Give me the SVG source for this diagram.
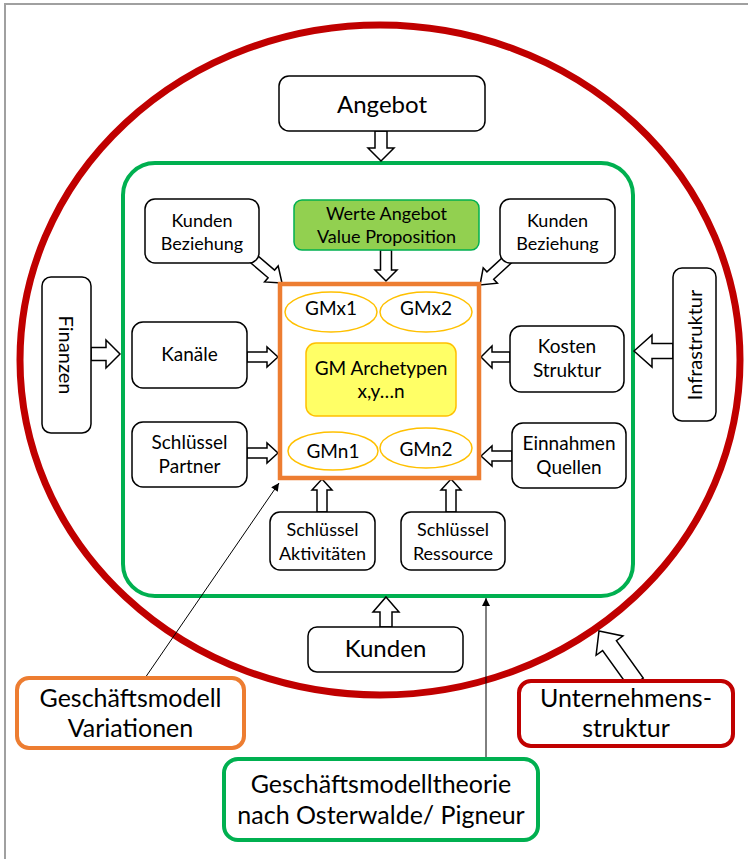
<svg xmlns="http://www.w3.org/2000/svg" width="748" height="859" viewBox="0 0 748 859">
<style>
text{font-family:Lato,"Liberation Sans",sans-serif;fill:#000;text-anchor:middle}
.box{fill:#fff;stroke:#000;stroke-width:1.5}
.blk{fill:#fff;stroke:#000;stroke-width:1.5;stroke-linejoin:miter}
.gm{fill:#fff;stroke:#ffc000;stroke-width:1.5}
.t18{font-size:18px}
.t19{font-size:19px}
.t24{font-size:24px}
.t25{font-size:25px}
.thin{stroke:#000;stroke-width:1;fill:none;marker-end:url(#tri)}
</style>
<defs>
<marker id="tri" viewBox="0 0 10 10" refX="10" refY="5" markerWidth="10" markerHeight="8" markerUnits="userSpaceOnUse" orient="auto">
<path d="M0,0 L10,5 L0,10 Z" fill="#000"/>
</marker>
</defs>
<rect x="0" y="0" width="748" height="859" fill="#fff"/>
<path d="M5,859 V4 H748" fill="none" stroke="#a0a0a0" stroke-width="2"/>
<g id="unternehmen-ellipse">
<ellipse cx="380" cy="360" rx="360" ry="335" fill="none" stroke="#c00000" stroke-width="7"/>
</g>
<g id="theorie-frame">
<rect x="123" y="163" width="510" height="433" rx="32" fill="none" stroke="#00b050" stroke-width="4"/>
</g>
<g id="connectors">
<!-- arrow: tip at origin, pointing up; tail along +y -->
<path class="blk" transform="translate(381,161) rotate(180)" d="M0,0 L13,13 L6,13 L6,30 L-6,30 L-6,13 L-13,13 Z"/>
<path class="blk" transform="translate(386,281) rotate(180)" d="M0,0 L11,11 L5.5,11 L5.5,31 L-5.5,31 L-5.5,11 L-11,11 Z"/>
<path class="blk" transform="translate(282,283) rotate(130.5)" d="M0,0 L10.5,14 L5,14 L5,40 L-5,40 L-5,14 L-10.5,14 Z"/>
<path class="blk" transform="translate(480,285) rotate(-132.6)" d="M0,0 L10.5,14 L5,14 L5,40 L-5,40 L-5,14 L-10.5,14 Z"/>
<path class="blk" transform="translate(120,354) rotate(90)" d="M0,0 L14,14 L6.5,14 L6.5,29 L-6.5,29 L-6.5,14 L-14,14 Z"/>
<path class="blk" transform="translate(278,357) rotate(90)" d="M0,0 L10,11 L5,11 L5,31 L-5,31 L-5,11 L-10,11 Z"/>
<path class="blk" transform="translate(278,453) rotate(90)" d="M0,0 L10,11 L5,11 L5,31 L-5,31 L-5,11 L-10,11 Z"/>
<path class="blk" transform="translate(481,357) rotate(-90)" d="M0,0 L11,11 L5,11 L5,29 L-5,29 L-5,11 L-11,11 Z"/>
<path class="blk" transform="translate(481,456) rotate(-90)" d="M0,0 L10,11 L5,11 L5,31 L-5,31 L-5,11 L-10,11 Z"/>
<path class="blk" transform="translate(634,351) rotate(-90)" d="M0,0 L16,18 L7.5,18 L7.5,39 L-7.5,39 L-7.5,18 L-16,18 Z"/>
<path class="blk" transform="translate(322,479)" d="M0,0 L10,11 L5,11 L5,33 L-5,33 L-5,11 L-10,11 Z"/>
<path class="blk" transform="translate(451,479)" d="M0,0 L10,11 L5,11 L5,33 L-5,33 L-5,11 L-10,11 Z"/>
<path class="blk" transform="translate(386,597)" d="M0,0 L13,15 L6,15 L6,30 L-6,30 L-6,15 L-13,15 Z"/>
<path class="blk" transform="translate(599,631) rotate(-35.7)" d="M0,0 L16.5,18 L8.5,18 L8.5,64 L-8.5,64 L-8.5,18 L-16.5,18 Z"/>
<line class="thin" x1="145" y1="678" x2="279" y2="483"/>
<line class="thin" x1="486" y1="759" x2="486" y2="598"/>
</g>
<g id="angebot">
<rect class="box" x="279" y="76" width="206" height="55" rx="10"/>
<text class="t24" x="382" y="113">Angebot</text>
</g>
<g id="kunden-beziehung-links">
<rect class="box" x="145" y="199" width="114" height="64" rx="10"/>
<text class="t18" x="202" y="227">Kunden</text>
<text class="t18" x="202" y="250">Beziehung</text>
</g>
<g id="werte-angebot">
<rect x="294" y="200" width="185" height="50" rx="8" fill="#92d050" stroke="#00b050" stroke-width="1.5"/>
<text class="t18" x="386.5" y="220">Werte Angebot</text>
<text class="t18" x="386.5" y="243">Value Proposition</text>
</g>
<g id="kunden-beziehung-rechts">
<rect class="box" x="500" y="199" width="115" height="64" rx="10"/>
<text class="t18" x="557.5" y="227">Kunden</text>
<text class="t18" x="557.5" y="250">Beziehung</text>
</g>
<g id="gm-archetypen-rahmen">
<rect x="280" y="284" width="199" height="194" fill="#fff" stroke="#ed7d31" stroke-width="4.5"/>
</g>
<g id="gmx1">
<ellipse class="gm" cx="331" cy="312" rx="46" ry="20"/>
<text class="t19" x="331" y="315">GMx1</text>
</g>
<g id="gmx2">
<ellipse class="gm" cx="426" cy="312" rx="46" ry="20"/>
<text class="t19" x="426" y="315">GMx2</text>
</g>
<g id="gm-archetypen">
<rect x="306" y="343" width="150" height="73" rx="10" fill="#ffff66" stroke="#ffc000" stroke-width="1.5"/>
<text class="t19" x="381" y="375">GM Archetypen</text>
<text class="t19" x="381" y="398">x,y…n</text>
</g>
<g id="gmn1">
<ellipse class="gm" cx="333" cy="451" rx="45" ry="19"/>
<text class="t19" x="333" y="458">GMn1</text>
</g>
<g id="gmn2">
<ellipse class="gm" cx="426" cy="448" rx="46" ry="20"/>
<text class="t19" x="426" y="456">GMn2</text>
</g>
<g id="finanzen">
<rect class="box" x="42" y="277" width="49" height="156" rx="9"/>
<text class="t19" transform="translate(66,355) rotate(90)" x="0" y="7" style="font-size:20px">Finanzen</text>
</g>
<g id="kanaele">
<rect class="box" x="132" y="322" width="115" height="66" rx="11"/>
<text class="t19" x="189.5" y="361">Kanäle</text>
</g>
<g id="schluessel-partner">
<rect class="box" x="132" y="422" width="115" height="65" rx="11"/>
<text class="t19" x="189.5" y="449">Schlüssel</text>
<text class="t19" x="189.5" y="473">Partner</text>
</g>
<g id="kosten-struktur">
<rect class="box" x="510" y="326" width="114" height="66" rx="11"/>
<text class="t19" x="567" y="353">Kosten</text>
<text class="t19" x="567" y="377">Struktur</text>
</g>
<g id="einnahmen-quellen">
<rect class="box" x="512" y="423" width="114" height="65" rx="11"/>
<text class="t19" x="569" y="450">Einnahmen</text>
<text class="t19" x="569" y="474">Quellen</text>
</g>
<g id="infrastruktur">
<rect class="box" x="673" y="268" width="43" height="153" rx="9"/>
<text transform="translate(694.5,345) rotate(-90)" x="0" y="7" style="font-size:20px">Infrastruktur</text>
</g>
<g id="schluessel-aktivitaeten">
<rect class="box" x="270" y="512" width="105" height="58" rx="10"/>
<text class="t18" x="322.5" y="536">Schlüssel</text>
<text class="t18" x="322.5" y="560">Aktivitäten</text>
</g>
<g id="schluessel-ressource">
<rect class="box" x="401" y="512" width="104" height="58" rx="10"/>
<text class="t18" x="453" y="536">Schlüssel</text>
<text class="t18" x="453" y="560">Ressource</text>
</g>
<g id="kunden">
<rect class="box" x="308" y="627" width="155" height="45" rx="9"/>
<text class="t24" x="385.5" y="657">Kunden</text>
</g>
<g id="gm-variationen">
<rect x="17" y="678" width="227" height="70" rx="12" fill="#fff" stroke="#ed7d31" stroke-width="4"/>
<text class="t25" x="130.5" y="707">Geschäftsmodell</text>
<text class="t25" x="130.5" y="737">Variationen</text>
</g>
<g id="unternehmensstruktur">
<rect x="519" y="681" width="214" height="65" rx="12" fill="#fff" stroke="#c00000" stroke-width="4"/>
<text class="t25" x="626" y="707">Unternehmens-</text>
<text class="t25" x="626" y="737">struktur</text>
</g>
<g id="gm-theorie">
<rect x="224" y="759" width="314" height="81" rx="14" fill="#fff" stroke="#00b050" stroke-width="4"/>
<text class="t25" x="381" y="793">Geschäftsmodelltheorie</text>
<text class="t25" x="381" y="824">nach Osterwalde/ Pigneur</text>
</g>
</svg>
